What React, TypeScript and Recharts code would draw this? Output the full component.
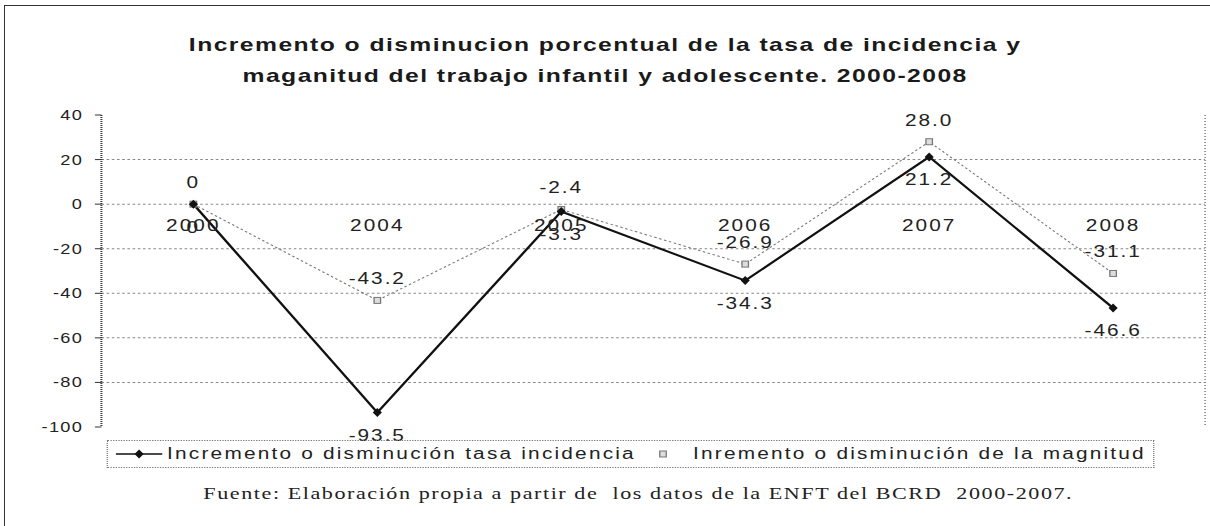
import { LineChart, Line, XAxis, YAxis, CartesianGrid, LabelList, ReferenceDot, Legend } from 'recharts';

const years = ['2000', '2004', '2005', '2006', '2007', '2008'];
const tasaIncidencia = [0, -93.5, -3.3, -34.3, 21.2, -46.6];
const magnitud = [0, -43.2, -2.4, -26.9, 28.0, -31.1];
const yTicks = [40, 20, 0, -20, -40, -60, -80, -100];
const gridValues = [20, 0, -20, -40, -60, -80];

const serieTasa = 'Incremento o disminución tasa incidencia';
const serieMagnitud = 'Inremento o disminución de la magnitud';
const titulo = [
  'Incremento o disminucion porcentual de la tasa de incidencia y',
  'maganitud del trabajo infantil y adolescente. 2000-2008',
];
const fuente = 'Fuente: Elaboración propia a partir de  los datos de la ENFT del BCRD  2000-2007.';

const data = years.map((year, i) => ({ year, tasa: tasaIncidencia[i], magnitud: magnitud[i] }));

// the scanned original is stretched horizontally, so the chart is drawn narrow and scaled
const STRETCH = 1.3;
const W = 931;
const H = 526;
const SANS = '"Liberation Sans", Arial, sans-serif';

const fmt = (v: any) => (Number(v) === 0 ? '0' : Number(v).toFixed(1));

const Diamond = (props: any) => {
  const { cx, cy } = props;
  if (cx == null || cy == null) return null;
  return (
    <polygon
      points={`${cx},${cy - 4.5} ${cx + 3.5},${cy} ${cx},${cy + 4.5} ${cx - 3.5},${cy}`}
      fill="#111"
    />
  );
};

const Square = (props: any) => {
  const { cx, cy } = props;
  if (cx == null || cy == null) return null;
  return <rect x={cx - 2.5} y={cy - 3} width={5} height={6} fill="#ddd" stroke="#777" strokeWidth={1} />;
};

const LegendBox = () => (
  <div
    style={{
      border: '1px dotted #777',
      height: 26,
      display: 'flex',
      alignItems: 'center',
      justifyContent: 'center',
      gap: 16,
      fontFamily: SANS,
      fontSize: 16,
      letterSpacing: 1.7,
      color: '#222',
      whiteSpace: 'nowrap',
    }}
  >
    <span style={{ display: 'flex', alignItems: 'center', gap: 4 }}>
      <svg width={36} height={10}>
        <line x1={0} y1={5} x2={36} y2={5} stroke="#111" strokeWidth={1.5} />
        <polygon points="18,0.5 21.5,5 18,9.5 14.5,5" fill="#111" />
      </svg>
      {serieTasa}
    </span>
    <span style={{ display: 'flex', alignItems: 'center', gap: 18 }}>
      <svg width={10} height={10}>
        <rect x={2.5} y={2} width={5} height={6} fill="#ddd" stroke="#777" strokeWidth={1} />
      </svg>
      {serieMagnitud}
    </span>
  </div>
);

export default function App() {
  return (
    <div style={{ position: 'absolute', left: 0, top: 0, width: 1210, height: H, overflow: 'hidden', background: '#fff' }}>
      <div
        style={{
          position: 'absolute',
          left: 4,
          top: 5,
          width: 1300,
          height: 700,
          borderLeft: '1.5px solid #333',
          borderTop: '1.5px solid #333',
        }}
      />
      <div
        style={{
          position: 'absolute',
          left: 0,
          top: 0,
          width: W,
          height: H,
          transform: `scaleX(${STRETCH})`,
          transformOrigin: '0 0',
        }}
      >
        <div
          style={{
            position: 'absolute',
            top: 29,
            left: 0,
            width: W,
            textAlign: 'center',
            fontFamily: SANS,
            fontWeight: 'bold',
            fontSize: 19,
            lineHeight: '31px',
            letterSpacing: 1.1,
            color: '#1a1a1a',
          }}
        >
          {titulo.map((t) => (
            <div key={t}>{t}</div>
          ))}
        </div>

        <LineChart width={W} height={H} data={data} margin={{ top: 115, right: 3, bottom: 99, left: 0 }}>
          <CartesianGrid vertical={false} horizontalValues={gridValues} stroke="#888" strokeDasharray="2 2" />
          <XAxis dataKey="year" type="category" scale="band" hide />
          <YAxis
            domain={[-100, 40]}
            ticks={yTicks}
            width={78}
            interval={0}
            tickSize={5}
            tickMargin={9}
            axisLine={{ stroke: '#333', strokeWidth: 1.5, strokeDasharray: '1 1' }}
            tickLine={{ stroke: '#333' }}
            tick={{ fontSize: 14, fill: '#222', letterSpacing: 1, fontFamily: SANS }}
          />
          <YAxis
            yAxisId="right"
            orientation="right"
            domain={[-100, 40]}
            width={1}
            tick={false}
            tickLine={false}
            axisLine={{ stroke: '#666', strokeDasharray: '1 2' }}
          />
          {years.map((y) => (
            <ReferenceDot
              key={y}
              x={y}
              y={0}
              r={1}
              fillOpacity={0}
              strokeOpacity={0}
              label={{
                value: y,
                position: 'bottom',
                offset: 15,
                fontSize: 16,
                fill: '#222',
                letterSpacing: 1.6,
                fontFamily: SANS,
              }}
            />
          ))}
          <Line
            dataKey="magnitud"
            name={serieMagnitud}
            stroke="#777"
            strokeWidth={1}
            strokeDasharray="2 2"
            dot={<Square />}
            isAnimationActive={false}
          >
            <LabelList
              dataKey="magnitud"
              position="top"
              offset={16}
              formatter={fmt}
              fontSize={16}
              fill="#222"
              letterSpacing={1.5}
              fontFamily={SANS}
            />
          </Line>
          <Line
            dataKey="tasa"
            name={serieTasa}
            stroke="#111"
            strokeWidth={2}
            dot={<Diamond />}
            isAnimationActive={false}
          >
            <LabelList
              dataKey="tasa"
              position="bottom"
              offset={17}
              formatter={fmt}
              fontSize={16}
              fill="#222"
              letterSpacing={1.5}
              fontFamily={SANS}
            />
          </Line>
          <Legend
            layout="horizontal"
            verticalAlign="middle"
            align="center"
            content={LegendBox}
            wrapperStyle={{ position: 'absolute', left: 82, top: 440, width: 806, height: 28 }}
          />
        </LineChart>

        <div
          style={{
            position: 'absolute',
            top: 484,
            left: 91,
            width: 800,
            textAlign: 'center',
            fontFamily: '"Liberation Serif", "Times New Roman", serif',
            fontSize: 17,
            letterSpacing: 1.2,
            color: '#222',
            whiteSpace: 'pre',
          }}
        >
          {fuente}
        </div>
      </div>
    </div>
  );
}
